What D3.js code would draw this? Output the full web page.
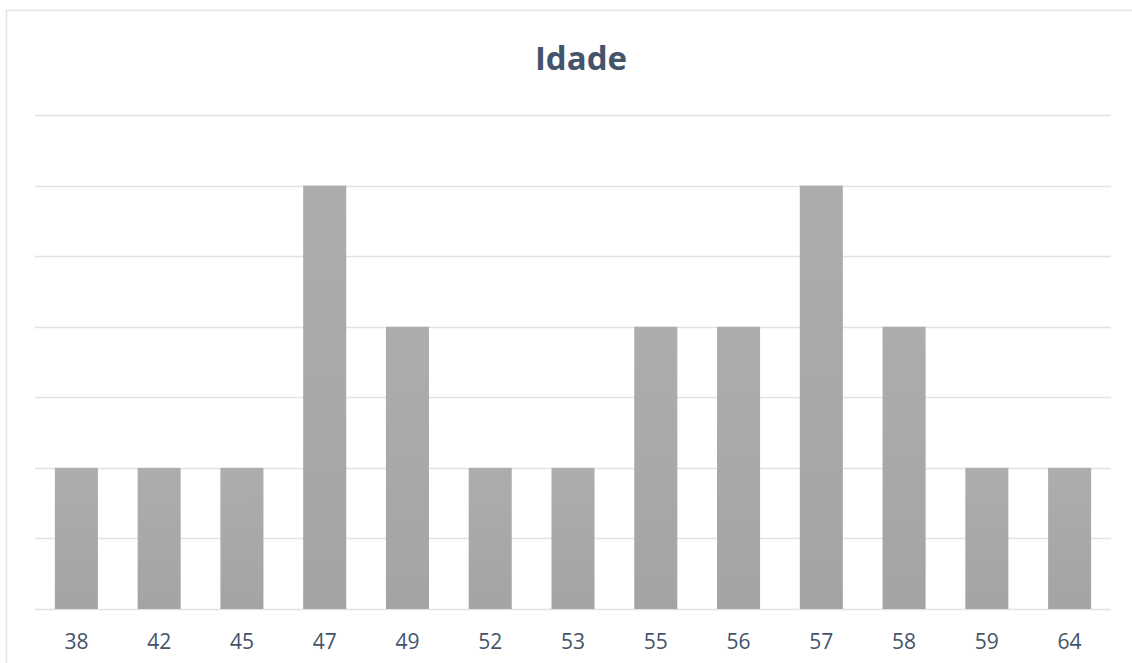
<!DOCTYPE html>
<html>
  <head>
    <meta charset="utf-8">
    <script src="https://d3js.org/d3.v7.min.js"></script>
    <style>
      body { margin: 0; background: #fff; }
    </style>
  </head>
<body>
  <div id="chart"></div>

  <script type="text/javascript">

      // DATA
      var idades = ["38", "42", "45", "47", "49", "52", "53", "55", "56", "57", "58", "59", "64"];
      var contagem = [1, 1, 1, 3, 2, 1, 1, 2, 2, 3, 2, 1, 1];
      var gridTicks = [0, 0.5, 1, 1.5, 2, 2.5, 3, 3.5];

      var width = 1132, height = 663;
      var plotLeft = 35, plotRight = 1111, plotTop = 115, plotBottom = 609;

      var svg = d3.select("#chart").append("svg")
          .attr("width", width)
          .attr("height", height);

      // gradient for the bars
      var grad = svg.append("defs").append("linearGradient")
          .attr("id", "barGrad")
          .attr("x1", 0).attr("y1", 0).attr("x2", 0).attr("y2", 1);
      grad.append("stop").attr("offset", "0%").attr("stop-color", "#adadad");
      grad.append("stop").attr("offset", "100%").attr("stop-color", "#a4a4a4");

      // CHART BORDER (left + top only are visible)
      svg.append("path")
          .attr("d", "M6.5," + height + "V10.5H" + width)
          .style("fill", "none")
          .style("stroke", "#e0e3ea")
          .style("stroke-width", 1.5);

      // TITLE
      svg.append("text")
          .attr("x", 581)
          .attr("y", 70)
          .style("text-anchor", "middle")
          .style("font-family", "'Open Sans', 'Noto Sans', sans-serif")
          .style("font-weight", "bold")
          .style("font-size", "33px")
          .style("fill", "#44546a")
          .text("Idade");

      var x = d3.scaleBand()
          .domain(idades)
          .range([plotLeft, plotRight])
          .paddingInner(0.48)
          .paddingOuter(0.24);

      var y = d3.scaleLinear()
          .domain([0, 3.5])
          .range([plotBottom, plotTop]);

      // GRIDLINES
      svg.selectAll("line.grid")
          .data(gridTicks)
          .enter()
          .append("line")
          .attr("class", "grid")
          .attr("x1", plotLeft)
          .attr("x2", plotRight)
          .attr("y1", function (d) { return Math.round(y(d)) + 0.5; })
          .attr("y2", function (d) { return Math.round(y(d)) + 0.5; })
          .style("stroke", "#dfe2e9")
          .style("stroke-width", 1.5);

      // BARS
      svg.selectAll("rect.bar")
          .data(contagem)
          .enter()
          .append("rect")
          .attr("class", "bar")
          .attr("x", function (d, i) { return x(idades[i]); })
          .attr("y", function (d) { return y(d); })
          .attr("width", x.bandwidth())
          .attr("height", function (d) { return y(0) - y(d); })
          .style("fill", "url(#barGrad)");

      // X AXIS LABELS
      var xAxis = d3.axisBottom(x).tickSize(0).tickPadding(0);
      var gx = svg.append("g")
          .attr("transform", "translate(0," + plotBottom + ")")
          .call(xAxis);
      gx.select(".domain").remove();
      gx.selectAll("text")
          .attr("y", 40)
          .attr("dy", 0)
          .style("font-family", "'Open Sans', 'Noto Sans', sans-serif")
          .style("font-size", "21px")
          .style("fill", "#44546a");

  </script>
</body>
</html>
